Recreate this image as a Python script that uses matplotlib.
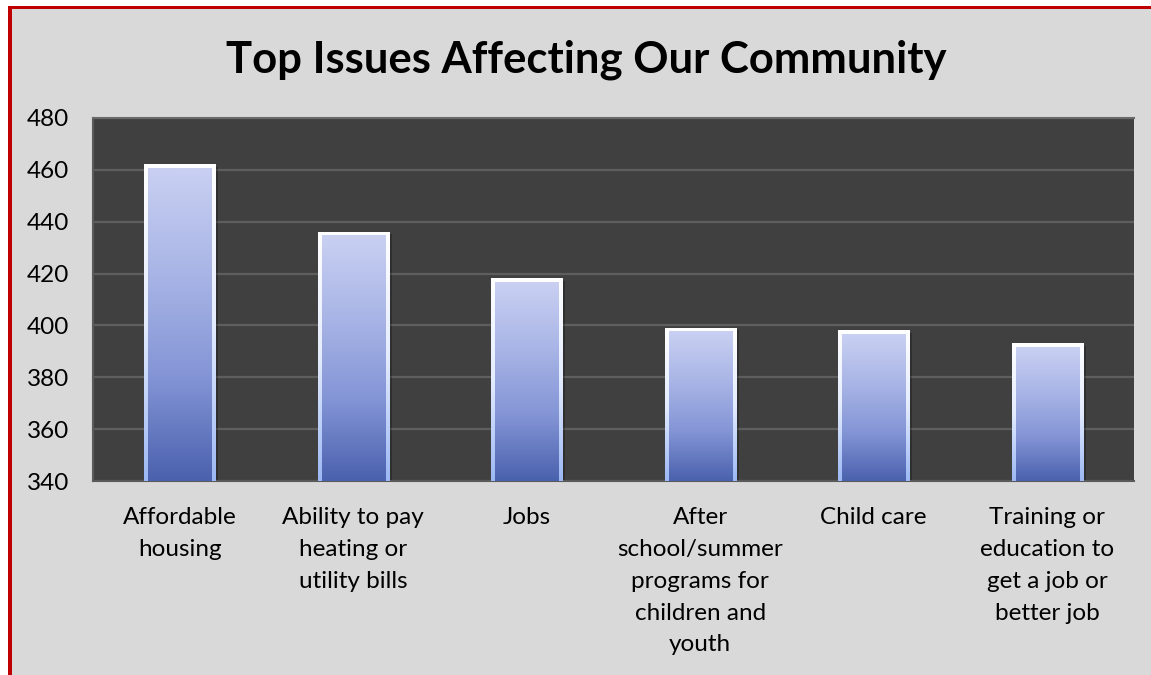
import numpy as np
import matplotlib
matplotlib.use("Agg")
import matplotlib.pyplot as plt
from matplotlib.colors import LinearSegmentedColormap
from matplotlib.patches import Rectangle

# Survey results: number of respondents naming each issue
categories = [
    "Affordable\nhousing",
    "Ability to pay\nheating or\nutility bills",
    "Jobs",
    "After\nschool/summer\nprograms for\nchildren and\nyouth",
    "Child care",
    "Training or\neducation to\nget a job or\nbetter job",
]
responses = [462, 436, 418, 399, 398, 393]
y_ticks = [340, 360, 380, 400, 420, 440, 460, 480]
title = "Top Issues Affecting Our Community"

plt.rcParams["font.family"] = ["Lato", "DejaVu Sans"]

W, H = 1151, 675
fig = plt.figure(figsize=(W / 100, H / 100), dpi=100)
fig.patch.set_facecolor("white")

def px_rect(x0, y0, x1, y1, **kw):
    """Rectangle given in pixel coordinates measured from the top-left corner."""
    return Rectangle((x0 / W, 1 - y1 / H), (x1 - x0) / W, (y1 - y0) / H,
                     transform=fig.transFigure, **kw)

# Chart frame: grey fill with a red rule along the top and left
fig.patches.append(px_rect(12, 9, W, H, facecolor="#d9d9d9", edgecolor="none", zorder=-2))
fig.patches.append(px_rect(8, 6, W, 9, facecolor="#c00000", edgecolor="none", zorder=-1))
fig.patches.append(px_rect(8, 6, 12, H, facecolor="#c00000", edgecolor="none", zorder=-1))

ax = fig.add_axes([93 / W, 1 - 481 / H, (1134 - 93) / W, (481 - 118) / H])
ax.set_zorder(2)
ax.set_facecolor("#404040")

fill_cmap = LinearSegmentedColormap.from_list(
    "fill", ["#c9d0f2", "#a9b5e6", "#8495d6", "#4a61ad"])
edge_cmap = LinearSegmentedColormap.from_list(
    "edge", ["#ffffff", "#e4ecff", "#9cb8f4"])
grad = np.linspace(0, 1, 256).reshape(-1, 1)

x = np.arange(len(categories))
bar_w = 0.41
ymin, ymax = y_ticks[0], y_ticks[-1]
bars = ax.bar(x, [v - ymin for v in responses], bottom=ymin, width=bar_w,
              color="none", edgecolor="none", zorder=3)

# bevel inset and shadow offset, converted from pixels to data units
dx = 4 / (1134 - 93) * len(categories)
dy = 3.5 / (481 - 118) * (ymax - ymin)
sx = 3 / (1134 - 93) * len(categories)
sy = 2 / (481 - 118) * (ymax - ymin)
for rect, val in zip(bars, responses):
    x0 = rect.get_x()
    x1 = x0 + rect.get_width()
    # soft drop shadow
    ax.add_patch(Rectangle((x0 + sx, ymin), rect.get_width(), val - ymin - sy,
                           facecolor="black", alpha=0.25, edgecolor="none", zorder=2))
    # bevelled rim
    ax.imshow(grad, cmap=edge_cmap, aspect="auto", extent=[x0, x1, ymin, val],
              origin="upper", zorder=3, interpolation="bilinear")
    # main gradient fill
    ax.imshow(grad, cmap=fill_cmap, aspect="auto",
              extent=[x0 + dx, x1 - dx, ymin, val - dy],
              origin="upper", zorder=4, interpolation="bilinear")

ax.set_xlim(-0.5, len(categories) - 0.5)
ax.set_ylim(ymin, ymax)
ax.set_yticks(y_ticks)
ax.set_yticklabels([str(t) for t in y_ticks])
ax.set_xticks(x)
ax.set_xticklabels(categories, linespacing=1.63, va="top")
ax.tick_params(axis="both", length=0, labelsize=17.5, labelcolor="black")
ax.tick_params(axis="y", pad=17)
ax.tick_params(axis="x", pad=19)

ax.yaxis.grid(True, color="#5e5e5e", linewidth=1.6, zorder=1)
ax.set_axisbelow(True)
for side in ["left", "bottom"]:
    ax.spines[side].set_color("#5a5a5a")
    ax.spines[side].set_linewidth(1.5)
ax.spines["top"].set_color("#6a6a6a")
ax.spines["top"].set_linewidth(1.5)
ax.spines["right"].set_visible(False)

fig.text(586 / W, 1 - 60 / H, title, ha="center", va="center",
         fontsize=31.4, fontweight="bold", color="black")

fig.savefig("out.png", dpi=100, facecolor=fig.get_facecolor())
